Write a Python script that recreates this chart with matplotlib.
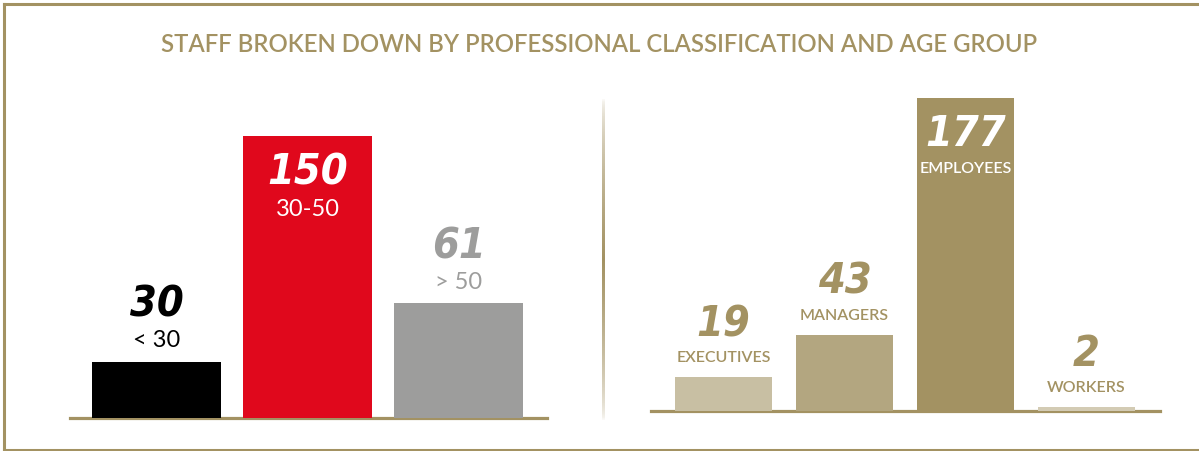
import numpy as np
import matplotlib.pyplot as plt
from matplotlib.colors import to_rgb
from matplotlib.lines import Line2D

GOLD = '#a39262'

# age group panel
age_groups = ['< 30', '30-50', '> 50']
age_counts = [30, 150, 61]
age_colors = ['#000000', '#e0081c', '#9d9d9c']
age_text = ['#000000', '#ffffff', '#9d9d9c']

# professional classification panel
roles = ['EXECUTIVES', 'MANAGERS', 'EMPLOYEES', 'WORKERS']
role_counts = [19, 43, 177, 2]
role_colors = ['#c8bfa3', '#b3a680', '#a39262', '#d3cbb4']
role_text = [GOLD, GOLD, '#ffffff', GOLD]

NUM_FONT = dict(family='DejaVu Sans', weight='bold', style='italic', stretch='condensed')
LBL_FONT = 'Lato'

fig = plt.figure(figsize=(11.99, 4.51), dpi=100)
W, H = 1199, 451


def px_axes(x0, x1, ybase, ytop):
    return fig.add_axes([x0 / W, (H - ybase) / H, (x1 - x0) / W, (ybase - ytop) / H])


def style(ax):
    for s in ['top', 'right', 'left']:
        ax.spines[s].set_visible(False)
    ax.spines['bottom'].set_color(GOLD)
    ax.spines['bottom'].set_linewidth(2.3)
    ax.spines['bottom'].set_zorder(1)
    ax.set_xticks([])
    ax.set_yticks([])
    ax.patch.set_alpha(0)


def label_bars(ax, bars, values, names, colors, inside, num_size, lbl_size, lbl_weight,
               num_off, lbl_off, in_num, in_lbl):
    for b, v, n, c, ins in zip(bars, values, names, colors, inside):
        cx = b.get_x() + b.get_width() / 2
        top = b.get_height()
        if ins:
            no, lo = in_num, in_lbl
        else:
            no, lo = num_off, lbl_off
        ax.annotate(str(v), (cx, top), xytext=(0, no), textcoords='offset pixels',
                    ha='center', va='center', color=c, fontsize=num_size, **NUM_FONT)
        ax.annotate(n, (cx, top), xytext=(0, lo), textcoords='offset pixels',
                    ha='center', va='center', color=c, fontsize=lbl_size,
                    family=LBL_FONT, weight=lbl_weight)


# left panel: baseline at y=418 px, 151 px per slot
ax1 = px_axes(70, 547, 418, 80)
x1 = np.arange(len(age_counts))
bars1 = ax1.bar(x1, age_counts, width=0.854, color=age_colors, zorder=2)
ax1.set_xlim(-0.576, 477 / 151 - 0.576)
ax1.set_ylim(0, 338 / 1.88)
style(ax1)
label_bars(ax1, bars1, age_counts, age_groups, age_text,
           [False, True, False], 31, 17, 'normal', 57, 21, -36, -73)

# right panel: baseline at y=411 px, 121 px per slot
ax2 = px_axes(651, 1160, 411, 80)
x2 = np.arange(len(role_counts))
bars2 = ax2.bar(x2, role_counts, width=0.80, color=role_colors, zorder=2)
ax2.set_xlim(-0.599, 509 / 121 - 0.599)
ax2.set_ylim(0, 331 / 1.77)
style(ax2)
label_bars(ax2, bars2, role_counts, roles, role_text,
           [False, False, True, False], 31, 11.5, 'semibold', 53, 19, -36, -71)

# title
fig.text(0.5, (H - 45) / H, 'STAFF BROKEN DOWN BY PROFESSIONAL CLASSIFICATION AND AGE GROUP',
         ha='center', va='center', color=GOLD, fontsize=17.2, family=LBL_FONT,
         weight='semibold')

# frame: top, left and bottom edges
for xs, ys in [([4, W], [4, 4]), ([4, 4], [4, 450]), ([4, W], [450, 450])]:
    fig.add_artist(Line2D([x / W for x in xs], [(H - y) / H for y in ys],
                          color=GOLD, lw=2.2))

# faded vertical divider between panels
div = fig.add_axes([602 / W, (H - 420) / H, 3 / W, 321 / H])
t = np.linspace(0, 1, 200)
alpha = np.clip(1 - np.abs(t - 0.5) * 2, 0, 1) ** 0.6 * 0.95 + 0.05
grad = np.zeros((200, 1, 4))
grad[:, 0, :3] = to_rgb(GOLD)
grad[:, 0, 3] = alpha
div.imshow(grad, aspect='auto', interpolation='bilinear')
div.axis('off')

fig.savefig('out.png', dpi=100)
